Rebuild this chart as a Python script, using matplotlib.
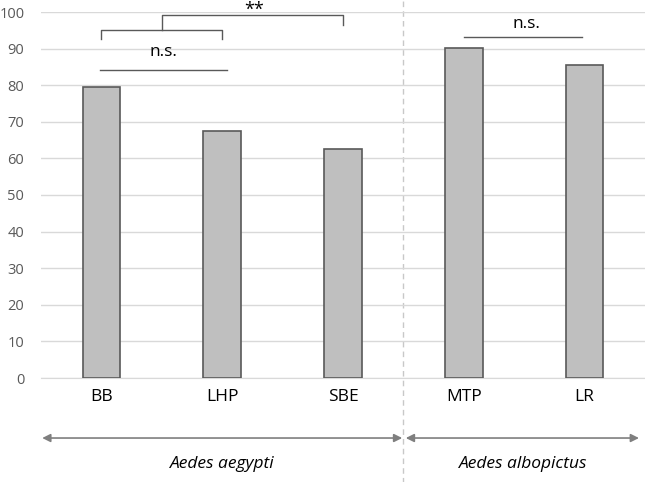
import numpy as np
import matplotlib.pyplot as plt

# data
sites = ['BB', 'LHP', 'SBE', 'MTP', 'LR']
values = [79.6, 67.5, 62.6, 90.3, 85.5]
species = ['Aedes aegypti', 'Aedes albopictus']

plt.rcParams['font.family'] = ['Open Sans', 'DejaVu Sans']

fig = plt.figure(figsize=(6.45, 4.82), dpi=100)
ax = fig.add_axes([41 / 645, 1 - 378 / 482, 604 / 645, 366 / 482])

x = np.arange(len(sites))
ax.bar(x, values, width=0.31, color='#bfbfbf', edgecolor='#595959', linewidth=1.2, zorder=3)

ax.set_xlim(-0.5, 4.5)
ax.set_ylim(0, 100)
ax.set_yticks(np.arange(0, 101, 10))
ax.set_xticks(x)
ax.set_xticklabels(sites, fontsize=12.5, color='black')
ax.tick_params(axis='x', length=0, pad=8)
ax.tick_params(axis='y', length=0, pad=12, labelsize=10.5, labelcolor='#595959')
ax.grid(axis='y', color='#d9d9d9', linewidth=1, zorder=0)
for s in ['top', 'right', 'left']:
    ax.spines[s].set_visible(False)
ax.spines['bottom'].set_color('#d9d9d9')

# dashed separator between species
tr = ax.get_xaxis_transform()
ax.plot([2.5, 2.5], [-0.29, 1.04], transform=tr, color='#c8c8c8', lw=1,
        ls=(0, (4, 3)), clip_on=False, zorder=1)

# significance marks
lc = '#595959'
ax.plot([0, 0, 1, 1], [92.6, 95.1, 95.1, 92.6], color=lc, lw=1, clip_on=False)
ax.plot([0.5, 0.5, 2.0, 2.0], [95.1, 99.3, 99.3, 96.4], color=lc, lw=1, clip_on=False)
ax.text(1.26, 103.1, '**', ha='center', va='top', fontsize=13, clip_on=False)
ax.plot([-0.01, 1.04], [84.2, 84.2], color=lc, lw=1)
ax.text(0.51, 89.0, 'n.s.', ha='center', va='center', fontsize=12.5)
ax.plot([3.0, 3.98], [93.2, 93.2], color=lc, lw=1)
ax.text(3.52, 96.8, 'n.s.', ha='center', va='center', fontsize=12.5)

# species arrows
ac = '#7f7f7f'
arrow = dict(arrowstyle='<|-|>', color=ac, lw=1.2, mutation_scale=12, shrinkA=0, shrinkB=0)
ax.annotate('', xy=(-0.49, -0.164), xytext=(2.49, -0.164), xycoords=tr, textcoords=tr,
            arrowprops=arrow, annotation_clip=False)
ax.annotate('', xy=(2.52, -0.164), xytext=(4.45, -0.164), xycoords=tr, textcoords=tr,
            arrowprops=arrow, annotation_clip=False)
ax.text(1.0, -0.236, species[0], transform=tr, ha='center', va='center',
        fontsize=12.5, style='italic')
ax.text(3.49, -0.236, species[1], transform=tr, ha='center', va='center',
        fontsize=12.5, style='italic')

fig.savefig('out.png', dpi=100)
